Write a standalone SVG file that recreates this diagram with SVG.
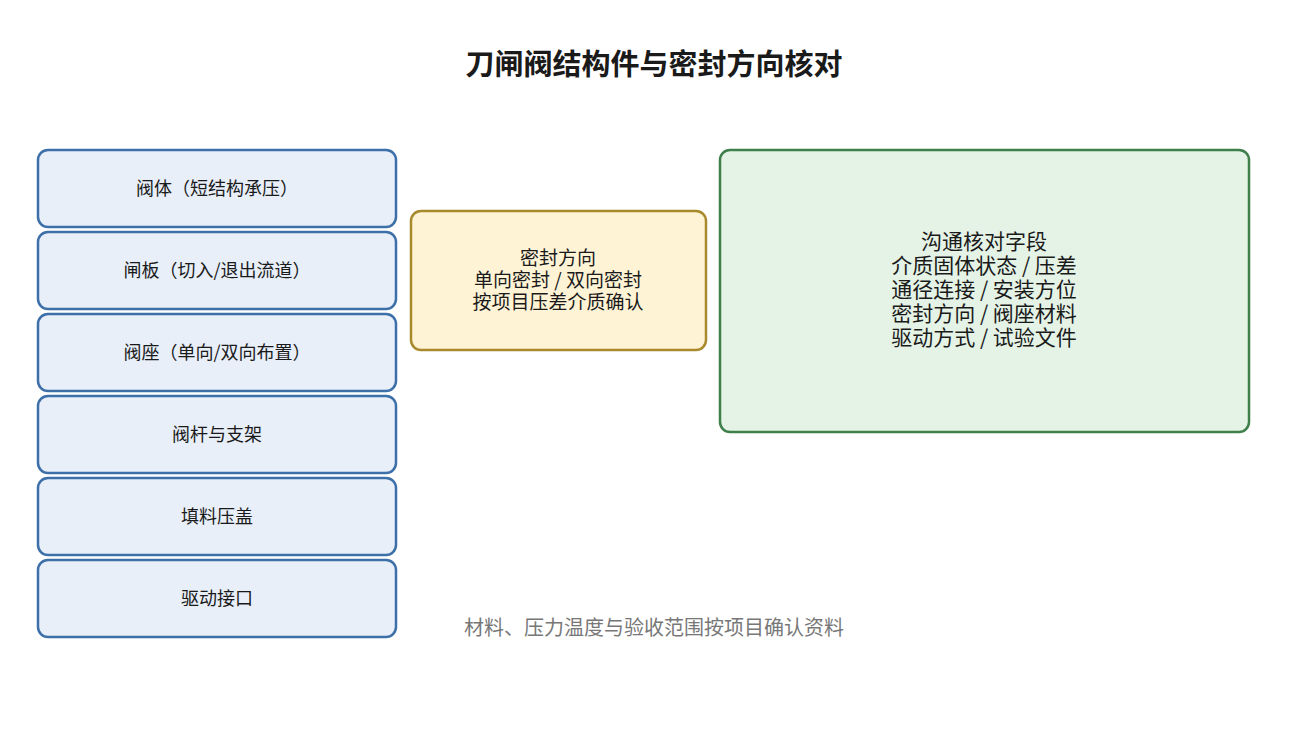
<svg xmlns="http://www.w3.org/2000/svg" width="1308" height="746" viewBox="0 0 1308 746">
<style>
text{font-family:"Noto Sans CJK SC","Noto Sans",sans-serif;fill:#1a1a1a;text-anchor:middle}
.b{fill:#e8eff9;stroke:#3d6fa8;stroke-width:2.5}
.t{font-size:18px}
</style>
<rect width="1308" height="746" fill="#fff"/>
<text x="654" y="75" font-size="29" font-weight="bold" fill="#000">刀闸阀结构件与密封方向核对</text>
<g id="n1"><rect class="b" x="38" y="150" width="358" height="77" rx="10"/><text class="t" x="217" y="195">阀体（短结构承压）</text></g>
<g id="n2"><rect class="b" x="38" y="232" width="358" height="77" rx="10"/><text class="t" x="217" y="277">闸板（切入/退出流道）</text></g>
<g id="n3"><rect class="b" x="38" y="314" width="358" height="77" rx="10"/><text class="t" x="217" y="359">阀座（单向/双向布置）</text></g>
<g id="n4"><rect class="b" x="38" y="396" width="358" height="77" rx="10"/><text class="t" x="217" y="441">阀杆与支架</text></g>
<g id="n5"><rect class="b" x="38" y="478" width="358" height="77" rx="10"/><text class="t" x="217" y="523">填料压盖</text></g>
<g id="n6"><rect class="b" x="38" y="560" width="358" height="77" rx="10"/><text class="t" x="217" y="605">驱动接口</text></g>
<g id="seal"><rect x="411" y="211" width="295" height="139" rx="10" fill="#fff3d6" stroke="#a88a2c" stroke-width="2.5"/>
<g font-size="19"><text x="558" y="265">密封方向</text><text x="558" y="287">单向密封 / 双向密封</text><text x="558" y="309">按项目压差介质确认</text></g></g>
<g id="fields"><rect x="720" y="150" width="529" height="282" rx="10" fill="#e5f3e6" stroke="#3f7f4c" stroke-width="2.5"/>
<g font-size="21"><text x="984" y="249">沟通核对字段</text><text x="984" y="273">介质固体状态 / 压差</text><text x="984" y="297">通径连接 / 安装方位</text><text x="984" y="321">密封方向 / 阀座材料</text><text x="984" y="345">驱动方式 / 试验文件</text></g></g>
<g id="connectors"/>
<text x="654" y="635" font-size="20" style="fill:#777">材料、压力温度与验收范围按项目确认资料</text>
</svg>
